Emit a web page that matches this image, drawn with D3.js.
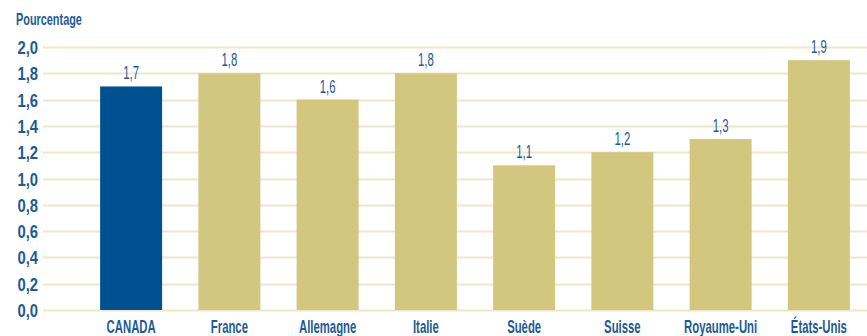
<!DOCTYPE html>
<html>
<head>
<meta charset="utf-8">
<script src="https://cdn.jsdelivr.net/npm/d3@7"></script>
<style>
  html, body { margin: 0; padding: 0; background: #ffffff; }
  svg { display: block; }
  text { font-family: "Liberation Sans", Arial, sans-serif; }
</style>
</head>
<body>
<svg id="chart" width="867" height="336"></svg>
<script>
const categories = ["CANADA", "France", "Allemagne", "Italie", "Suède", "Suisse", "Royaume-Uni", "États-Unis"];
const values = [1.7, 1.8, 1.6, 1.8, 1.1, 1.2, 1.3, 1.9];
const yTicks = [0, 0.2, 0.4, 0.6, 0.8, 1.0, 1.2, 1.4, 1.6, 1.8, 2.0];
const highlight = "CANADA";
const yAxisTitle = "Pourcentage";

const W = 867, H = 336;
const blueText = "#1d5a98";
const barBlue = "#00518f";
const barKhaki = "#d3c67f";
const gridCol = "#efe6c7";

const svg = d3.select("#chart");

const x = d3.scaleBand()
  .domain(categories)
  .range([82, 868])
  .paddingInner(0.369)
  .paddingOuter(0.1845);

const y = d3.scaleLinear().domain([0, 2]).range([310, 47]);

const fmt = v => d3.format(".1f")(v).replace(".", ",");

// gridlines
svg.append("g").selectAll("line").data(yTicks).join("line")
  .attr("x1", 43).attr("x2", W)
  .attr("y1", d => Math.round(y(d)) + 0.5).attr("y2", d => Math.round(y(d)) + 0.5)
  .attr("stroke", gridCol).attr("stroke-width", 2);

// y tick labels
const tg = svg.append("g").selectAll("g").data(yTicks).join("g")
  .attr("transform", d => `translate(38,${y(d) + 7})`);
tg.append("text")
  .attr("transform", "scale(0.78,1)")
  .attr("text-anchor", "end")
  .attr("font-size", 19).attr("font-weight", "bold")
  .attr("fill", blueText)
  .text(d => fmt(d));

// y axis title
svg.append("g").attr("transform", "translate(16,25)")
  .append("text")
  .attr("transform", "scale(0.64,1)")
  .attr("font-size", 17).attr("font-weight", "bold")
  .attr("fill", blueText)
  .text(yAxisTitle);

// bars
svg.append("g").selectAll("rect").data(categories).join("rect")
  .attr("x", d => x(d))
  .attr("width", x.bandwidth())
  .attr("y", (d, i) => y(values[i]))
  .attr("height", (d, i) => y(0) - y(values[i]))
  .attr("fill", d => d === highlight ? barBlue : barKhaki);

// value labels
const vg = svg.append("g").selectAll("g").data(categories).join("g")
  .attr("transform", (d, i) => `translate(${x(d) + x.bandwidth() / 2},${y(values[i]) - 7})`);
vg.append("text")
  .attr("transform", "scale(0.6,1)")
  .attr("text-anchor", "middle")
  .attr("font-size", 19)
  .attr("fill", blueText)
  .text((d, i) => fmt(values[i]));

// category labels
const cg = svg.append("g").selectAll("g").data(categories).join("g")
  .attr("transform", d => `translate(${x(d) + x.bandwidth() / 2},333)`);
cg.append("text")
  .attr("transform", "scale(0.63,1)")
  .attr("text-anchor", "middle")
  .attr("font-size", 18).attr("font-weight", "bold")
  .attr("fill", blueText)
  .text(d => d);
</script>
</body>
</html>
